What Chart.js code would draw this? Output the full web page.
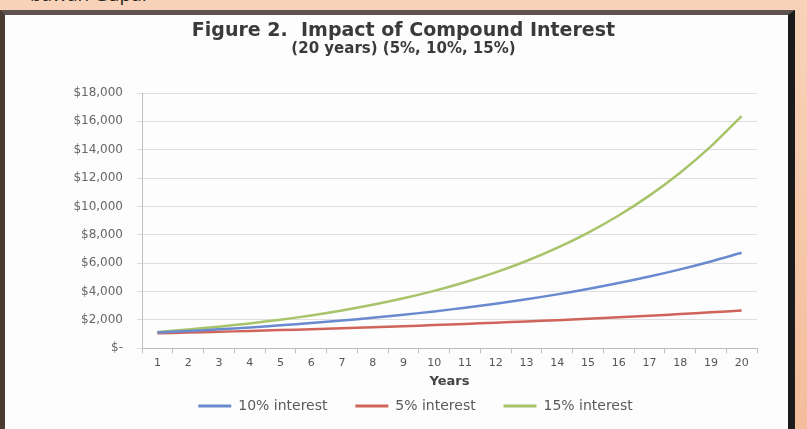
<!DOCTYPE html>
<html>
<head>
<meta charset="utf-8">
<script src="https://cdn.jsdelivr.net/npm/chart.js@4"></script>
<style>
  html, body { margin: 0; padding: 0; }
  body {
    width: 807px; height: 429px; overflow: hidden; position: relative;
    background: linear-gradient(to bottom, #f8d3b9, #f4bd9c);
  }
  #caption {
    position: absolute; left: 30px; top: -16px;
    font: 19px "Open Sans", sans-serif; line-height: 20px; color: #2a2420;
  }
  #frame {
    position: absolute; left: 0; top: 10px; width: 783px; height: 430px;
    border-left: 5px solid #4b3b33; border-top: 5px solid #5d524d;
    border-right: 7px solid #1c1c1c; background: #fdfdfd;
  }
  #chartBox { position: absolute; left: 0; top: 0; width: 807px; height: 429px; }
</style>
</head>
<body>
<div id="caption">bawah Gupa.</div>
<div id="frame"></div>
<div id="chartBox"><canvas id="chartCanvas"></canvas></div>
<script>
// values ($1,000 growing over 20 years)
const years = ['1', '2', '3', '4', '5', '6', '7', '8', '9', '10',
  '11', '12', '13', '14', '15', '16', '17', '18', '19', '20'];
const interest10 = [1100, 1210, 1331, 1464, 1611, 1772, 1949, 2144, 2358, 2594,
  2853, 3138, 3452, 3797, 4177, 4595, 5054, 5560, 6116, 6727];
const interest5 = [1050, 1103, 1158, 1216, 1276, 1340, 1407, 1477, 1551, 1629,
  1710, 1796, 1886, 1980, 2079, 2183, 2292, 2407, 2527, 2653];
const interest15 = [1150, 1323, 1521, 1749, 2011, 2313, 2660, 3059, 3518, 4046,
  4652, 5350, 6153, 7076, 8137, 9358, 10761, 12375, 14232, 16367];
const seriesNames = ['10% interest', '5% interest', '15% interest'];

const ctx = document.getElementById('chartCanvas').getContext('2d');

// legend sits a little right of the chart's centre in the picture
const legendNudge = {
  id: 'legendNudge',
  afterLayout: chart => {
    chart.legend.left += 12;
    chart.legend.right += 12;
  }
};

new Chart(ctx, {
  type: 'line',
  data: {
    labels: years,
    datasets: [
      { label: seriesNames[0], data: interest10, borderColor: '#6a8ad0', backgroundColor: '#6a8ad0' },
      { label: seriesNames[1], data: interest5, borderColor: '#d0645a', backgroundColor: '#d0645a' },
      { label: seriesNames[2], data: interest15, borderColor: '#a8c46a', backgroundColor: '#a8c46a' }
    ]
  },
  plugins: [legendNudge],
  options: {
    responsive: true,
    maintainAspectRatio: false,
    animation: false,
    layout: { padding: { left: 50, right: 50, top: 22, bottom: 6 } },
    elements: {
      line: { borderWidth: 2.5, tension: 0.3, fill: false },
      point: { radius: 0 }
    },
    plugins: {
      title: {
        display: true,
        text: 'Figure 2.  Impact of Compound Interest',
        color: '#3a3a3a',
        font: { family: 'DejaVu Sans', size: 19, weight: 'bold', lineHeight: 1 },
        padding: { top: 0, bottom: 1 }
      },
      subtitle: {
        display: true,
        text: '(20 years) (5%, 10%, 15%)',
        color: '#3a3a3a',
        font: { family: 'DejaVu Sans', size: 15, weight: 'bold', lineHeight: 1 },
        padding: { top: 0, bottom: 36 }
      },
      legend: {
        position: 'bottom',
        labels: {
          usePointStyle: true,
          pointStyle: 'line',
          pointStyleWidth: 33,
          padding: 10,
          color: '#5a5a5a',
          font: { family: 'DejaVu Sans', size: 14 },
          generateLabels: chart => Chart.defaults.plugins.legend.labels.generateLabels(chart)
            .map((item, i) => Object.assign(item, { text: i < 2 ? item.text + '    ' : item.text, lineWidth: 3 }))
        }
      },
      tooltip: { enabled: false }
    },
    scales: {
      x: {
        offset: true,
        grid: { display: true, drawOnChartArea: false, drawTicks: true, tickLength: 5, offset: true, color: '#bdbdbd' },
        border: { color: '#bdbdbd' },
        ticks: { color: '#555', padding: 3, font: { family: 'DejaVu Sans', size: 11 } },
        title: {
          display: true,
          text: 'Years',
          color: '#444',
          font: { family: 'DejaVu Sans', size: 13, weight: 'bold' },
          padding: { top: 1, bottom: 0 }
        }
      },
      y: {
        min: 0,
        max: 18000,
        afterFit: scale => { scale.width = 92; },
        grid: { color: '#dedede', drawTicks: true, tickLength: 5 },
        border: { color: '#bdbdbd' },
        ticks: {
          stepSize: 2000,
          padding: 14,
          color: '#666',
          font: { family: 'DejaVu Sans', size: 12 },
          callback: v => v === 0 ? '$-' : '$' + v.toLocaleString('en-US')
        }
      }
    }
  }
});
</script>
</body>
</html>
